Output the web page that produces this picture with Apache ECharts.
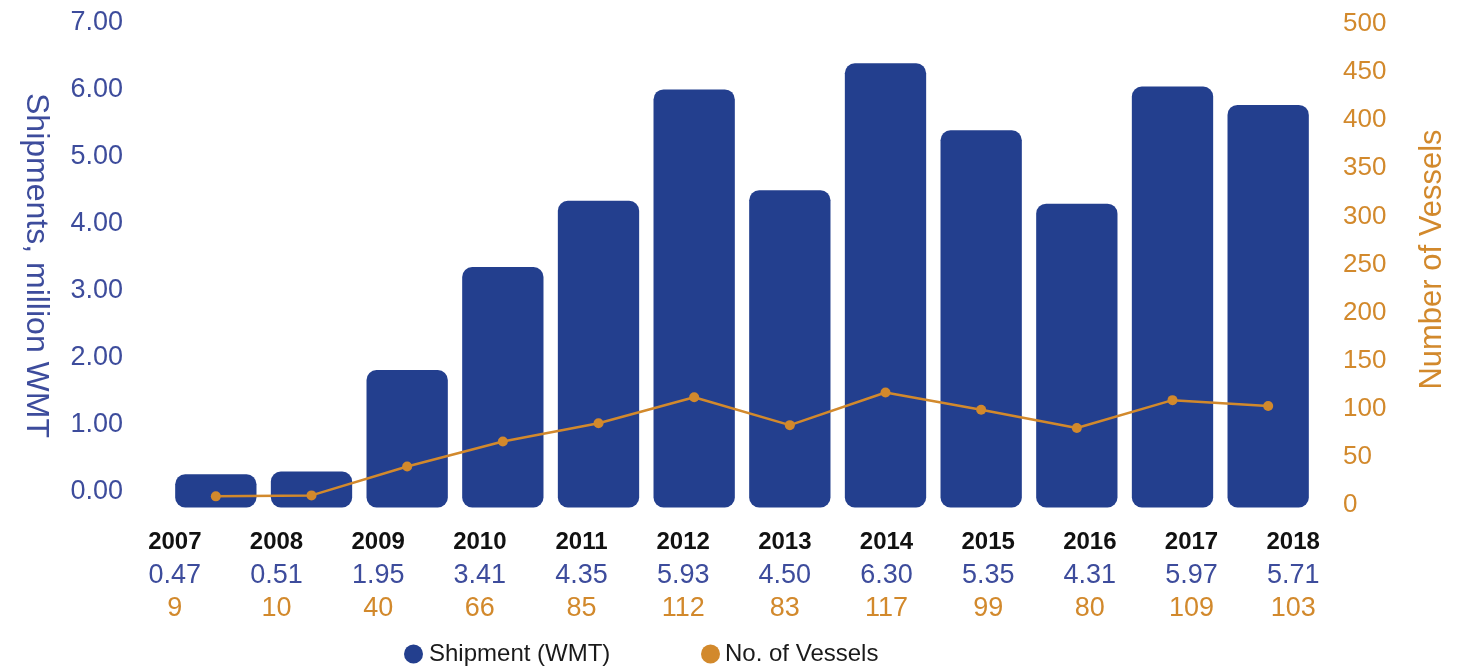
<!DOCTYPE html>
<html>
<head>
<meta charset="utf-8">
<script src="https://cdn.jsdelivr.net/npm/echarts@6/dist/echarts.min.js"></script>
<style>
  html, body { margin: 0; padding: 0; background: #ffffff; }
  #chart { width: 1469px; height: 666px; }
</style>
</head>
<body>
<div id="chart"></div>
<script>
// Annual shipments and vessel calls
const years = ['2007', '2008', '2009', '2010', '2011', '2012', '2013', '2014', '2015', '2016', '2017', '2018'];
const shipments = [0.47, 0.51, 1.95, 3.41, 4.35, 5.93, 4.50, 6.30, 5.35, 4.31, 5.97, 5.71];
const vessels = [9, 10, 40, 66, 85, 112, 83, 117, 99, 80, 109, 103];
const leftTicks = { min: 0, max: 7, interval: 1 };
const rightTicks = { min: 0, max: 500, interval: 50 };

const BLUE = '#233F8E';
const BLUE_TEXT = '#3D4C9C';
const ORANGE = '#D2892C';
const FONT = '"Liberation Sans", Arial, Helvetica, sans-serif';

const chart = echarts.init(document.getElementById('chart'), null, { renderer: 'canvas' });

chart.setOption({
  backgroundColor: '#ffffff',
  textStyle: { fontFamily: FONT },
  animation: false,
  grid: [
    // bars
    { left: 168, right: 153, top: 14, bottom: 158.5 },
    // vessel line + right scale
    { left: 168, right: 153, top: 24, bottom: 161 },
    // left scale + year table
    { left: 124, right: 125, top: 23, bottom: 174 }
  ],
  legend: [
    {
      data: ['Shipment (WMT)'],
      left: 399, top: 637,
      icon: 'circle', itemWidth: 19, itemHeight: 19,
      textStyle: { fontSize: 24, color: '#1a1a1a', padding: [0, 0, 0, 1] }
    },
    {
      data: ['No. of Vessels'],
      left: 696, top: 637,
      icon: 'circle', itemWidth: 19, itemHeight: 19,
      textStyle: { fontSize: 24, color: '#1a1a1a', padding: [0, 0, 0, 0] }
    }
  ],
  xAxis: [
    {
      type: 'category', gridIndex: 0, data: years,
      axisLine: { show: false }, axisTick: { show: false }, axisLabel: { show: false }
    },
    {
      type: 'category', gridIndex: 1, data: years,
      axisLine: { show: false }, axisTick: { show: false }, axisLabel: { show: false }
    },
    {
      type: 'category', gridIndex: 2, data: years,
      axisLine: { show: false }, axisTick: { show: false },
      axisLabel: {
        margin: 34,
        interval: 0,
        formatter: function (val, idx) {
          return '{y|' + val + '}\n{s|' + shipments[idx].toFixed(2) + '}\n{v|' + vessels[idx] + '}';
        },
        rich: {
          y: { fontSize: 24, fontWeight: 'bold', color: '#111111', lineHeight: 33, fontFamily: FONT },
          s: { fontSize: 27, color: BLUE_TEXT, lineHeight: 33, fontFamily: FONT },
          v: { fontSize: 27, color: ORANGE, lineHeight: 33, fontFamily: FONT }
        }
      }
    }
  ],
  yAxis: [
    {
      type: 'value', gridIndex: 0,
      min: leftTicks.min, max: leftTicks.max, interval: leftTicks.interval,
      show: false
    },
    {
      type: 'value', gridIndex: 1, position: 'right',
      min: rightTicks.min, max: rightTicks.max, interval: rightTicks.interval,
      axisLine: { show: false }, axisTick: { show: false }, splitLine: { show: false },
      axisLabel: { color: ORANGE, fontSize: 26, margin: 27, align: 'left' },
      name: 'Number of Vessels',
      nameLocation: 'middle',
      nameRotate: 90,
      nameGap: 101,
      nameTextStyle: { color: ORANGE, fontSize: 31, padding: [0, 0, 0, 10] }
    },
    {
      type: 'value', gridIndex: 2, position: 'left',
      min: leftTicks.min, max: leftTicks.max, interval: leftTicks.interval,
      axisLine: { show: false }, axisTick: { show: false }, splitLine: { show: false },
      axisLabel: {
        color: BLUE_TEXT, fontSize: 27, margin: 1,
        formatter: function (v) { return v.toFixed(2); }
      },
      name: 'Shipments, million WMT',
      nameLocation: 'middle',
      nameRotate: -90,
      nameGap: 72,
      nameTextStyle: { color: BLUE_TEXT, fontSize: 32, padding: [0, 0, 0, 16] }
    }
  ],
  series: [
    {
      name: 'Shipment (WMT)',
      type: 'bar',
      xAxisIndex: 0, yAxisIndex: 0,
      data: shipments,
      barCategoryGap: '15%',
      itemStyle: { color: BLUE, borderRadius: 10 },
      z: 2
    },
    {
      name: 'No. of Vessels',
      type: 'line',
      xAxisIndex: 1, yAxisIndex: 1,
      data: vessels,
      symbol: 'circle',
      symbolSize: 10,
      lineStyle: { color: ORANGE, width: 2.5 },
      itemStyle: { color: ORANGE },
      z: 3
    }
  ]
});
</script>
</body>
</html>
